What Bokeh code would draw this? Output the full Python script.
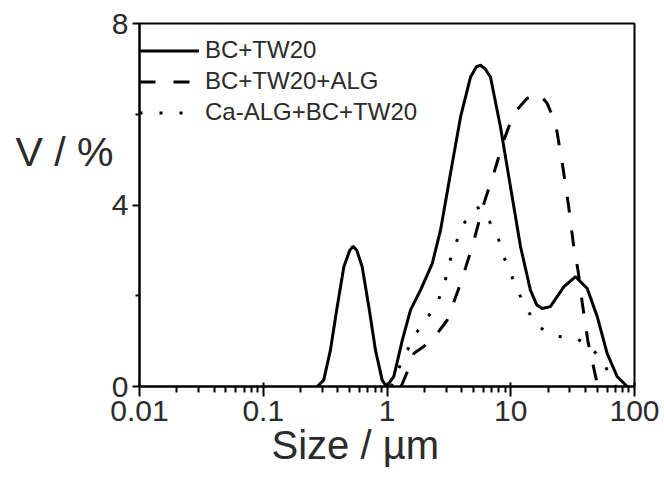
from bokeh.plotting import figure
from bokeh.models import FixedTicker, CustomJSTickFormatter, Legend, LegendItem, Title, Label
from bokeh.embed import file_html
from bokeh.resources import INLINE

# ---- data ----
bc_x = [0.273, 0.308, 0.349, 0.396, 0.448, 0.50, 0.533, 0.57, 0.630, 0.713, 0.807, 0.914, 0.991,
        1.135, 1.33, 1.55, 1.87, 2.32, 2.71, 3.26, 3.93, 4.73, 5.30, 5.70, 6.2, 6.86, 8.26, 9.95,
        12.0, 14.4, 16.2, 17.9, 20.9, 26.9, 33.4, 41.5, 50.0, 60.1, 72.4, 87.3]
bc_y = [0.0, 0.14, 0.80, 1.76, 2.64, 3.0, 3.09, 3.0, 2.64, 1.76, 0.80, 0.14, 0.0,
        0.22, 1.02, 1.69, 2.13, 2.71, 3.45, 4.70, 5.94, 6.82, 7.05, 7.08, 7.0, 6.82, 5.72, 4.40,
        3.08, 2.13, 1.80, 1.72, 1.76, 2.20, 2.42, 2.16, 1.54, 0.73, 0.22, 0.0]

alg_x = [1.30, 1.50, 1.65, 1.98, 2.55, 3.06, 3.93, 4.88, 6.06, 7.30, 8.79, 10.6, 13.6, 16.9,
         19.7, 23.0, 26.1, 29.4, 32.3, 35.0, 37.8, 42.0, 47.8, 50.5]
alg_y = [0.0, 0.40, 0.73, 0.88, 1.17, 1.46, 2.27, 3.08, 4.03, 4.70, 5.43, 6.02, 6.35, 6.46,
         6.24, 5.80, 4.92, 3.96, 3.08, 2.55, 1.85, 1.00, 0.30, 0.0]

ca_x = [1.08, 1.22, 1.46, 1.70, 2.11, 2.62, 2.97, 3.26, 3.69, 4.13, 4.97, 5.6, 6.06, 7.78, 8.79,
        10.3, 11.8, 13.6, 16.4, 23.0, 34.0, 45.0, 56.5, 70.2]
ca_y = [0.0, 0.35, 0.80, 1.16, 1.50, 1.92, 2.36, 2.81, 3.23, 3.57, 3.89, 3.95, 3.85, 3.34, 2.86,
        2.40, 2.02, 1.69, 1.33, 1.11, 1.06, 0.85, 0.51, 0.0]

series_names = ["BC+TW20", "BC+TW20+ALG", "Ca-ALG+BC+TW20"]
x_ticks = [0.01, 0.1, 1, 10, 100]
y_ticks = [0, 4, 8]
y_minor = [2, 6]
x_minor = [m * d for d in [0.01, 0.1, 1, 10] for m in range(2, 10)]

FONT = "Liberation Sans"
TXT = "#2b2b2b"

p = figure(width=664, height=481, x_axis_type="log", x_range=(0.01, 100), y_range=(0, 8),
           output_backend="svg", toolbar_location=None,
           min_border_left=139, min_border_right=30, min_border_top=23, min_border_bottom=95)
p.title.visible = False
p.grid.visible = False
p.background_fill_color = "white"
p.border_fill_color = "white"
p.outline_line_color = "black"
p.outline_line_width = 2

r1 = p.line(bc_x, bc_y, line_color="black", line_width=3)
r2 = p.line(alg_x, alg_y, line_color="black", line_width=3, line_dash="16 18")
r3 = p.line(ca_x, ca_y, line_color="black", line_width=3, line_dash="3 17")

# axes
xa = p.xaxis[0]
xa.ticker = FixedTicker(ticks=x_ticks, minor_ticks=x_minor)
xa.formatter = CustomJSTickFormatter(code="return String(Number(tick.toPrecision(6)))")
xa.axis_line_width = 2
xa.major_tick_line_width = 2
xa.minor_tick_line_width = 2
xa.major_tick_in = 4
xa.major_tick_out = 10
xa.minor_tick_in = 0
xa.minor_tick_out = 6
xa.major_label_text_font = FONT
xa.major_label_text_font_size = "30px"
xa.major_label_text_color = TXT
xa.major_label_standoff = 4

ya = p.yaxis[0]
ya.ticker = FixedTicker(ticks=y_ticks, minor_ticks=y_minor)
ya.axis_line_width = 2
ya.major_tick_line_width = 2
ya.minor_tick_line_width = 2
ya.major_tick_in = 0
ya.major_tick_out = 7
ya.minor_tick_in = 0
ya.minor_tick_out = 4
ya.major_label_text_font = FONT
ya.major_label_text_font_size = "30px"
ya.major_label_text_color = TXT
ya.major_label_standoff = 4

# y title (horizontal) placed in the left side panel
p.add_layout(Label(x=5, y=235, x_units="screen", y_units="screen", text="V / %",
                   text_font=FONT, text_font_size="41px", text_color=TXT,
                   text_align="left", text_baseline="alphabetic"), "left")

# x title
p.add_layout(Title(text="Size / \u00b5m", align="left", offset=132, standoff=-6,
                   text_font=FONT, text_font_size="40px", text_color=TXT,
                   text_font_style="normal"), "below")

legend = Legend(items=[LegendItem(label=series_names[0], renderers=[r1]),
                       LegendItem(label=series_names[1], renderers=[r2]),
                       LegendItem(label=series_names[2], renderers=[r3])],
                location=(0, 260), padding=0, margin=0, spacing=3,
                glyph_width=60, glyph_height=27, label_height=27, label_standoff=6,
                label_text_font=FONT, label_text_font_size="24px", label_text_color=TXT,
                border_line_color=None, background_fill_alpha=0)
p.add_layout(legend)

open("out.html", "w").write(file_html(p, INLINE))
